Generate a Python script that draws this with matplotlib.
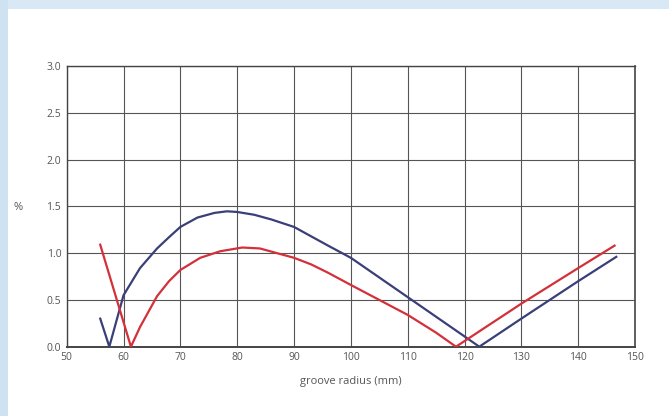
import matplotlib
matplotlib.use("Agg")
import matplotlib.pyplot as plt
from matplotlib.patches import Rectangle

# Data
blue_x = [55.9, 57.5, 60, 62.9, 65.9, 68, 70, 73, 76, 78.2, 80, 83, 86, 90, 93, 96,
          100, 105, 110, 115, 120, 122.6, 130, 140, 146.7]
blue_y = [0.30, 0.0, 0.55, 0.84, 1.05, 1.17, 1.28, 1.38, 1.43, 1.447, 1.44, 1.41, 1.36,
          1.28, 1.18, 1.08, 0.95, 0.74, 0.53, 0.32, 0.11, 0.0, 0.30, 0.70, 0.96]

red_x = [55.9, 61.3, 62.9, 65.9, 68, 70, 73.5, 77, 80.9, 84, 87, 90, 93, 96, 100,
         105, 110, 115, 118.5, 120, 130, 140, 146.4]
red_y = [1.09, 0.0, 0.21, 0.54, 0.70, 0.82, 0.95, 1.02, 1.06, 1.05, 1.00, 0.95, 0.88,
         0.79, 0.66, 0.50, 0.34, 0.15, 0.0, 0.06, 0.46, 0.84, 1.08]

x_ticks = [50, 60, 70, 80, 90, 100, 110, 120, 130, 140, 150]
y_ticks = [0.0, 0.5, 1.0, 1.5, 2.0, 2.5, 3.0]
x_label = "groove radius (mm)"
y_label = "%"

plt.rcParams['font.family'] = ['Open Sans', 'DejaVu Sans']

W, H = 669, 416
fig = plt.figure(figsize=(W / 100, H / 100), dpi=100)
fig.patch.set_facecolor('white')

# light blue frame on top and left
fig.patches.append(Rectangle((0, 1 - 9 / H), 1, 9 / H, transform=fig.transFigure,
                             facecolor='#d8e8f5', edgecolor='none', zorder=0))
fig.patches.append(Rectangle((0, 0), 8 / W, 1, transform=fig.transFigure,
                             facecolor='#cfe2f2', edgecolor='none', zorder=0))

left, right = 66.7 / W, 635 / W
bottom, top = 1 - 346.7 / H, 1 - 66 / H
ax = fig.add_axes([left, bottom, right - left, top - bottom])

ax.plot(blue_x, blue_y, color='#3b3f78', lw=1.6, solid_joinstyle='round', zorder=3)
ax.plot(red_x, red_y, color='#d3303a', lw=1.6, solid_joinstyle='round', zorder=3)

ax.set_xlim(50, 150)
ax.set_ylim(0, 3.0)
ax.set_xticks(x_ticks)
ax.set_yticks(y_ticks)
ax.set_xticklabels([str(v) for v in x_ticks])
ax.set_yticklabels([f"{v:.1f}" for v in y_ticks])
ax.grid(True, color='#555555', lw=0.8)
ax.set_axisbelow(True)
ax.tick_params(length=0, labelsize=7.5, labelcolor='#555555', pad=4)
for s in ax.spines.values():
    s.set_color('#444444')
    s.set_linewidth(1.4)
ax.spines['left'].set_linewidth(1.0)
ax.spines['top'].set_linewidth(1.0)
ax.spines['right'].set_linewidth(1.2)

ax.set_xlabel(x_label, fontsize=8, color='#555555', labelpad=9)
fig.text(18 / W, 1 - 208 / H, y_label, fontsize=8, color='#555555', ha='center', va='center')

fig.savefig('out.png', dpi=100)
